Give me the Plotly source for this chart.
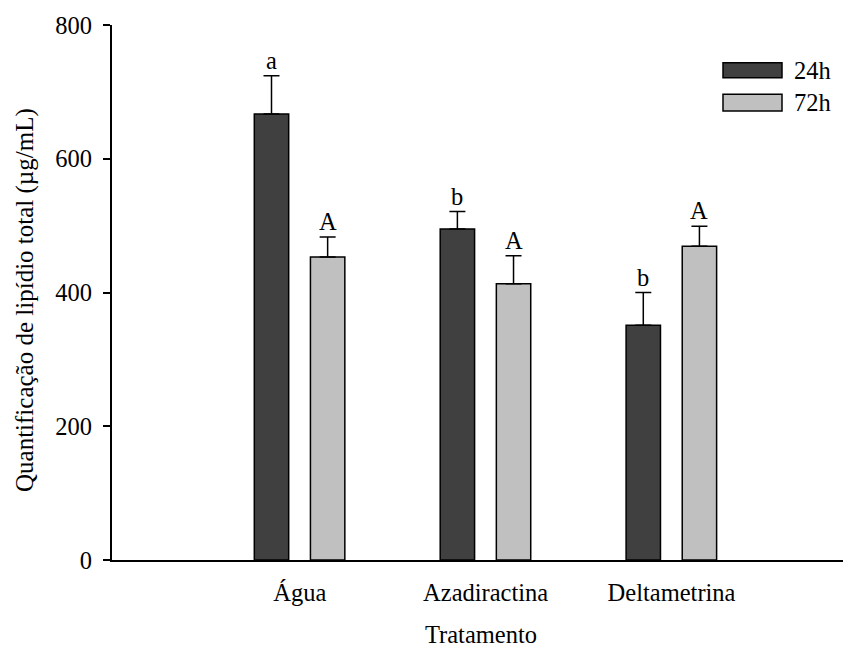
import plotly.graph_objects as go

categories = ["Água", "Azadiractina", "Deltametrina"]
series_names = ["24h", "72h"]
values_24h = [667, 495, 351]
errors_24h = [57, 26, 49]
values_72h = [453, 413, 469]
errors_72h = [30, 42, 30]
letters_24h = ["a", "b", "b"]
letters_72h = ["A", "A", "A"]
y_ticks = [0, 200, 400, 600, 800]

FONT = "Liberation Serif"
FS = 24.5
dark = "#404040"
light = "#c0c0c0"
bw = 0.185

fig = go.Figure()
for name, vals, errs, col, off in [
    (series_names[0], values_24h, errors_24h, dark, -0.152 - bw / 2),
    (series_names[1], values_72h, errors_72h, light, 0.150 - bw / 2),
]:
    fig.add_trace(go.Bar(
        x=categories, y=vals, name=name, width=bw, offset=off,
        marker=dict(color=col, line=dict(color="black", width=1.5)),
        error_y=dict(type="data", symmetric=False, array=errs,
                     arrayminus=[0] * len(errs), color="black",
                     thickness=1.5, width=8),
        showlegend=False,
    ))

# letters above error bars
for i, c in enumerate(categories):
    for vals, errs, lets, dx in [
        (values_24h, errors_24h, letters_24h, -0.152),
        (values_72h, errors_72h, letters_72h, 0.150),
    ]:
        fig.add_annotation(
            x=i + dx, y=vals[i] + errs[i], xref="x", yref="y",
            text=lets[i], showarrow=False, yanchor="bottom", yshift=0,
            font=dict(family=FONT, size=FS, color="black"),
        )

# legend drawn manually
leg = [(series_names[0], dark, 62.7, 77.7), (series_names[1], light, 94.3, 111)]
for name, col, y0, y1 in leg:
    fig.add_shape(type="rect", xref="paper", yref="paper",
                  x0=(723 - 112) / 738, x1=(782 - 112) / 738,
                  y0=(560 - y1) / 535, y1=(560 - y0) / 535,
                  fillcolor=col, line=dict(color="black", width=1.5))
    fig.add_annotation(xref="paper", yref="paper",
                       x=(792 - 112) / 738, y=(560 - (y0 + y1) / 2) / 535,
                       text=name, showarrow=False, xanchor="left",
                       yanchor="middle",
                       font=dict(family=FONT, size=FS, color="black"))

# y-axis title
fig.add_annotation(xref="paper", yref="paper",
                   x=(25 - 112) / 738, y=(560 - 300) / 535,
                   text="Quantificação de lipídio total (µg/mL)",
                   textangle=-90, showarrow=False,
                   xanchor="center", yanchor="middle",
                   font=dict(family=FONT, size=25, color="black"))

fig.update_layout(
    width=843, height=646,
    margin=dict(l=104, r=1, t=17, b=94),
    plot_bgcolor="white", paper_bgcolor="white",
    barmode="overlay",
    font=dict(family=FONT, size=FS, color="black"),
    xaxis=dict(
        range=[-1.01, 2.96], showline=True, linecolor="black", linewidth=2,
        ticks="", showgrid=False, zeroline=False, automargin=False,
        tickfont=dict(family=FONT, size=FS),
        ticklabelstandoff=10,
        title=dict(text="Tratamento", font=dict(family=FONT, size=FS),
                   standoff=20),
    ),
    yaxis=dict(
        range=[0, 800], tickvals=y_ticks, showline=True, linecolor="black",
        linewidth=2, ticks="outside", ticklen=7, tickwidth=2,
        tickcolor="black", showgrid=False, zeroline=False, automargin=False,
        tickfont=dict(family=FONT, size=FS), ticklabelstandoff=6,
    ),
)

fig.write_html("out.html")
